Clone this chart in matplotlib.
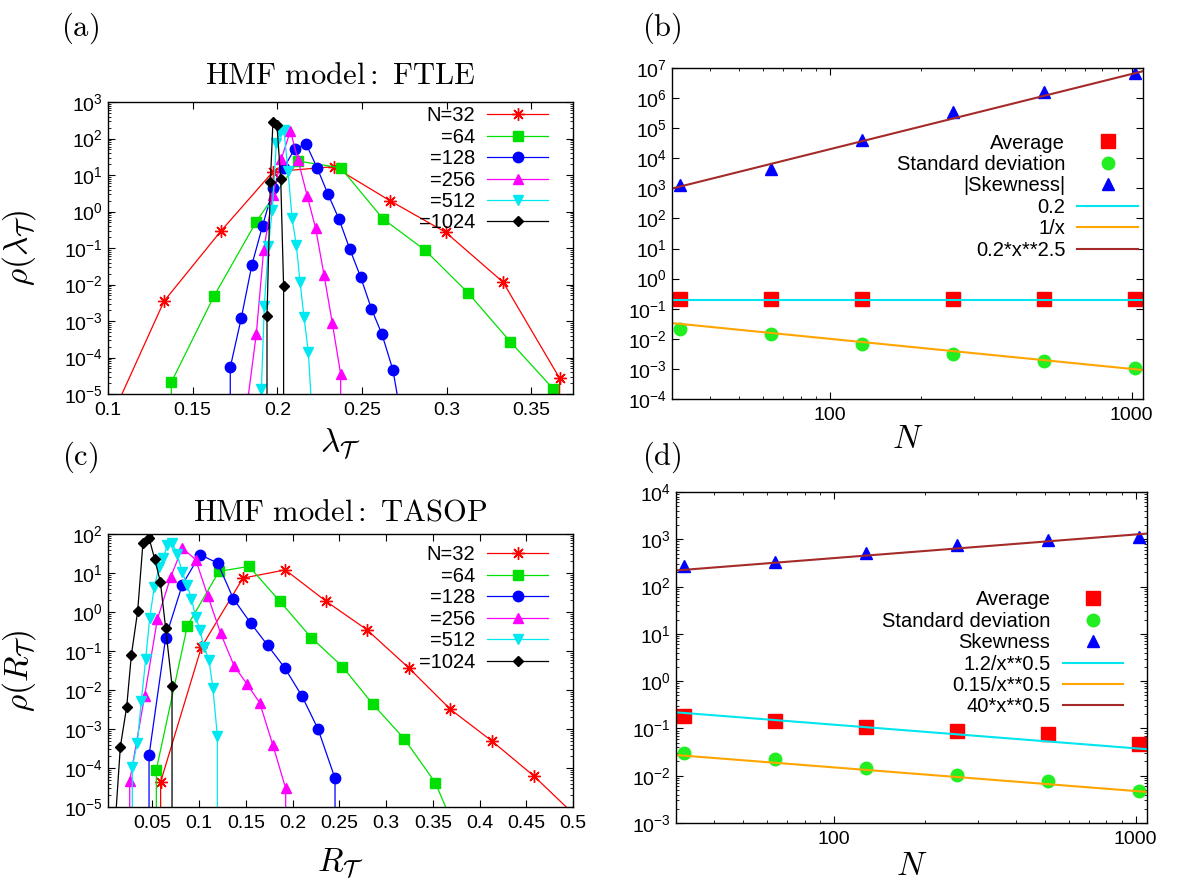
import numpy as np
import matplotlib
matplotlib.use('Agg')
import matplotlib.pyplot as plt
from matplotlib.ticker import (LogLocator, FixedLocator, FormatStrFormatter,
                               MultipleLocator, NullFormatter)

plt.rcParams['font.family'] = ['Liberation Sans', 'DejaVu Sans']
plt.rcParams['mathtext.fontset'] = 'cm'

TINY = 1e-12  # histogram bins that drop to (almost) zero -> vertical drop

# --- (a) FTLE distributions ---
a_labels = ['N=32', '=64', '=128', '=256', '=512', '=1024']
a_x32 = [0.0996, 0.1331, 0.1665, 0.1974, 0.2333, 0.2667, 0.2994, 0.3333, 0.3667, 0.3667]
a_y32 = [1.3e-6, 3.5e-3, 0.285, 12.3, 16.9, 1.95, 0.27, 0.0116, 2.7e-5, TINY]
a_x64 = [0.1374, 0.1374, 0.1626, 0.1876, 0.2122, 0.2374, 0.2624, 0.2874, 0.3126, 0.3376, 0.3628, 0.3628]
a_y64 = [TINY, 2.1e-5, 4.8e-3, 0.53, 24, 15.8, 0.63, 0.086, 5.9e-3, 2.7e-4, 1.4e-5, TINY]
a_x128 = [0.1722, 0.1722, 0.1787, 0.1850, 0.1913, 0.1976, 0.2039, 0.2104, 0.2171, 0.2234,
          0.2299, 0.2364, 0.2427, 0.2492, 0.2555, 0.2618, 0.2683, 0.2746]
a_y128 = [TINY, 5.4e-5, 1.2e-3, 0.035, 0.41, 4.3, 16, 53, 69, 16,
          3.0, 0.62, 0.096, 0.016, 2.2e-3, 4.3e-4, 4.5e-5, 9e-7]
a_x256 = [0.1827, 0.1876, 0.1919, 0.1974, 0.2024, 0.2077, 0.2122, 0.2177, 0.2226, 0.2276,
          0.2325, 0.2374, 0.2374]
a_y256 = [8e-6, 4.5e-4, 0.086, 2.9, 28, 162, 26, 2.6, 0.35, 0.018, 8.6e-4, 3.5e-5, TINY]
a_x512 = [0.1906, 0.1906, 0.1923, 0.1947, 0.1970, 0.1994, 0.2018, 0.2039, 0.2063, 0.2087,
          0.2112, 0.2134, 0.2157, 0.2183, 0.2203]
a_y512 = [TINY, 1.4e-5, 2.6e-3, 0.11, 1.1, 73, 150, 170, 12.8, 0.66,
          0.12, 0.012, 1.3e-3, 1.4e-4, 4e-6]
a_x1024 = [0.1939, 0.1939, 0.1959, 0.1974, 0.1998, 0.2020, 0.2037, 0.2037]
a_y1024 = [TINY, 1.4e-3, 6.6, 285, 230, 7.7, 9e-3, TINY]

# --- (c) TASOP distributions ---
c_x32 = [0.0588, 0.0588, 0.1024, 0.1469, 0.1922, 0.2361, 0.2796, 0.3242, 0.3688, 0.4133, 0.4579, 0.5025]
c_y32 = [TINY, 4.4e-5, 0.125, 7.4, 12, 1.86, 0.35, 0.037, 3.2e-3, 4.9e-4, 6.3e-5, 6e-6]
c_x64 = [0.0542, 0.0542, 0.0874, 0.1213, 0.1534, 0.1862, 0.2200, 0.2532, 0.2860, 0.3192, 0.3527, 0.3859]
c_y64 = [TINY, 9.1e-5, 0.44, 11, 14.8, 1.9, 0.22, 0.04, 4.3e-3, 5.7e-4, 4.2e-5, 5.6e-7]
c_x128 = [0.0464, 0.0464, 0.0642, 0.0820, 0.1009, 0.1198, 0.1366, 0.1551, 0.1733, 0.1919,
          0.2100, 0.2272, 0.2454, 0.2454]
c_y128 = [TINY, 2.1e-4, 0.22, 5.0, 29.5, 18, 2.2, 0.52, 0.14, 0.036, 7e-3, 1e-3, 5.4e-5, TINY]
c_x256 = [0.0257, 0.0257, 0.0417, 0.0553, 0.0696, 0.0820, 0.0963, 0.1095, 0.1230, 0.1373,
          0.1512, 0.1648, 0.1790, 0.1926, 0.1926]
c_y256 = [TINY, 4.6e-5, 7e-3, 0.65, 7.9, 44, 22, 2.5, 0.285, 0.042,
          0.0142, 4.7e-3, 3.8e-4, 3e-5, TINY]
c_x512 = [0.0285, 0.0285, 0.0339, 0.0382, 0.0428, 0.0471, 0.0521, 0.0571, 0.0617, 0.0660,
          0.0713, 0.0763, 0.0820, 0.0870, 0.0917, 0.0963, 0.1009, 0.1052, 0.1105, 0.1148,
          0.1195, 0.1195]
c_y512 = [TINY, 1.07e-4, 4.5e-4, 5.3e-3, 0.061, 0.69, 4.5, 13.9, 24, 53,
          59, 31, 10.4, 5.0, 2.2, 0.76, 0.35, 0.125, 0.059, 0.011,
          6.6e-4, TINY]
c_x1024 = [0.0096, 0.0157, 0.0225, 0.0275, 0.0342, 0.0399, 0.0464, 0.0524, 0.0585, 0.0642,
           0.0710, 0.0710]
c_y1024 = [2.3e-6, 3.5e-4, 3.7e-3, 0.079, 1.03, 59, 79, 23, 6.0, 0.38, 0.013, TINY]

# --- (b), (d) moments vs N ---
N = [32, 64, 128, 256, 512, 1024]
b_avg = [0.21, 0.21, 0.21, 0.205, 0.205, 0.205]
b_std = [0.0214, 0.0146, 0.0066, 0.0031, 0.0019, 0.0011]
b_skew = [1320, 4500, 3.9e4, 3.35e5, 1.55e6, 6.8e6]
b_fit_labels = ['0.2', '1/x', '0.2*x**2.5']
b_fit_coef = [0.2, 1.0, 0.2]
b_fit_pow = [0.0, -1.0, 2.5]

d_avg = [0.182, 0.146, 0.108, 0.089, 0.075, 0.048]
d_std = [0.0305, 0.0224, 0.0144, 0.0103, 0.0077, 0.0048]
d_skew = [266, 324, 525, 765, 977, 1095]
d_fit_labels = ['1.2/x**0.5', '0.15/x**0.5', '40*x**0.5']
d_fit_coef = [1.2, 0.15, 40.0]
d_fit_pow = [-0.5, -0.5, 0.5]

W, H = 1180, 884
fig = plt.figure(figsize=(W / 100, H / 100), dpi=100)


def rect(x0, y0, x1, y1):
    return [x0 / W, 1 - y1 / H, (x1 - x0) / W, (y1 - y0) / H]


ax_a = fig.add_axes(rect(108, 102, 573, 394))
ax_b = fig.add_axes(rect(672, 68, 1143, 399))
ax_c = fig.add_axes(rect(108, 534, 573, 807))
ax_d = fig.add_axes(rect(676, 492, 1147, 823))

LEG = dict(loc='upper right', frameon=False, markerfirst=False, numpoints=1,
           fontsize=14.5, handlelength=3.0, handletextpad=0.6, labelspacing=0.12,
           borderpad=0, borderaxespad=0)

dist_colors = ['#ff0000', '#00e000', '#0000ff', '#ff00ff', '#00e8f0', '#000000']
dist_markers = [(8, 2, 0), 's', 'o', '^', 'v', 'D']
dist_ms = [9, 7.5, 7.5, 7, 7, 5.5]

a_series = [(a_x32, a_y32), (a_x64, a_y64), (a_x128, a_y128),
            (a_x256, a_y256), (a_x512, a_y512), (a_x1024, a_y1024)]
c_series = [(c_x32, c_y32), (c_x64, c_y64), (c_x128, c_y128),
            (c_x256, c_y256), (c_x512, c_y512), (c_x1024, c_y1024)]

for ax, series, anchor in [(ax_a, a_series, (0.946, 0.985)), (ax_c, c_series, (0.946, 0.958))]:
    for (x, y), lab, col, mk, ms in zip(series, a_labels, dist_colors, dist_markers, dist_ms):
        ax.plot(x, y, color=col, lw=0.9, marker=mk, ms=ms, mec=col, mfc=col, mew=1.0, label=lab)
    ax.set_yscale('log')
    ax.yaxis.set_major_locator(LogLocator(base=10, numticks=20))
    ax.yaxis.set_minor_locator(LogLocator(base=10, subs=np.arange(2, 10), numticks=20))
    ax.yaxis.set_minor_formatter(NullFormatter())
    ax.xaxis.set_major_locator(MultipleLocator(0.05))
    ax.xaxis.set_major_formatter(FormatStrFormatter('%g'))
    ax.legend(bbox_to_anchor=anchor, **LEG)

ax_a.set_xlim(0.1, 0.3746)
ax_a.set_ylim(1e-5, 1e3)
ax_c.set_xlim(0.0025, 0.5)
ax_c.set_ylim(1e-5, 1e2)

ax_a.set_title(r'$\mathrm{HMF\ model:\ FTLE}$', fontsize=22, pad=13)
ax_c.set_title(r'$\mathrm{HMF\ model:\ TASOP}$', fontsize=22, pad=10)
ax_a.set_xlabel(r'$\lambda_{\mathcal{T}}$', fontsize=24)
ax_c.set_xlabel(r'$R_{\mathcal{T}}$', fontsize=24)
ax_a.set_ylabel(r'$\rho(\lambda_{\mathcal{T}})$', fontsize=24)
ax_c.set_ylabel(r'$\rho(R_{\mathcal{T}})$', fontsize=24)
ax_a.xaxis.set_label_coords(0.5, -0.11)
ax_c.xaxis.set_label_coords(0.5, -0.145)
ax_a.yaxis.set_label_coords(-0.15, 0.5)
ax_c.yaxis.set_label_coords(-0.15, 0.5)

mom_colors = ['#ff0000', '#22ee22', '#0000ff']
mom_markers = ['s', 'o', '^']
mom_ms = [10, 9, 9]
fit_colors = ['#00e5ee', '#ffa500', '#a52a2a']

for ax, avg, std, skew, flabs, fcoef, fpow, skl in [
        (ax_b, b_avg, b_std, b_skew, b_fit_labels, b_fit_coef, b_fit_pow, '|Skewness|'),
        (ax_d, d_avg, d_std, d_skew, d_fit_labels, d_fit_coef, d_fit_pow, 'Skewness')]:
    for vals, lab, col, mk, ms in zip([avg, std, skew], ['Average', 'Standard deviation', skl],
                                      mom_colors, mom_markers, mom_ms):
        ax.plot(N, vals, ls='none', marker=mk, ms=ms, color=col, label=lab)
    ax.set_xscale('log')
    ax.set_yscale('log')
    ax.set_xlim(30, 1090)
    xx = np.array(ax.get_xlim())
    for lab, c0, p, col in zip(flabs, fcoef, fpow, fit_colors):
        ax.plot(xx, c0 * xx ** p, color=col, lw=1.5, label=lab)
    ax.xaxis.set_major_locator(FixedLocator([100, 1000]))
    ax.xaxis.set_major_formatter(FormatStrFormatter('%g'))
    ax.xaxis.set_minor_locator(LogLocator(base=10, subs=np.arange(2, 10), numticks=20))
    ax.xaxis.set_minor_formatter(NullFormatter())
    ax.yaxis.set_major_locator(LogLocator(base=10, numticks=20))
    ax.set_xlabel(r'$N$', fontsize=24)

ax_b.set_ylim(1e-4, 1e7)
ax_b.yaxis.set_minor_locator(FixedLocator([]))
ax_d.set_ylim(1e-3, 1e4)
ax_d.yaxis.set_minor_locator(LogLocator(base=10, subs=np.arange(2, 10), numticks=20))
ax_d.yaxis.set_minor_formatter(NullFormatter())
ax_b.xaxis.set_label_coords(0.5, -0.075)
ax_d.xaxis.set_label_coords(0.5, -0.085)

ax_b.legend(bbox_to_anchor=(0.989, 0.802), **LEG)
ax_d.legend(bbox_to_anchor=(0.949, 0.703), **LEG)

for ax in [ax_a, ax_b, ax_c, ax_d]:
    ax.tick_params(which='both', direction='in', top=True, right=True, labelsize=14)
    ax.tick_params(which='major', length=5, width=0.8)
    ax.tick_params(which='minor', length=2.5, width=0.6)
    ax.tick_params(axis='x', pad=6)
    for s in ax.spines.values():
        s.set_linewidth(1.0)

for txt, px, py in [('(a)', 80, 28), ('(b)', 662, 28), ('(c)', 80, 457), ('(d)', 662, 457)]:
    fig.text(px / W, 1 - py / H, r'$\mathrm{' + txt + '}$', fontsize=22, ha='center', va='center')

fig.savefig('out.png', dpi=100)
